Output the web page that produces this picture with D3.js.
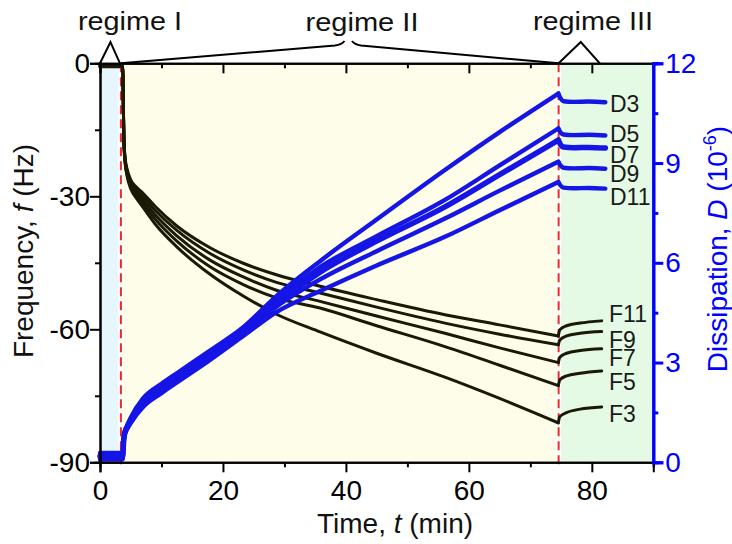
<!DOCTYPE html>
<html>
<head>
<meta charset="utf-8">
<script src="https://cdn.jsdelivr.net/npm/d3@7"></script>
<style>
  html, body { margin: 0; padding: 0; background: #fff; }
  svg { display: block; font-family: "Liberation Sans", Arial, sans-serif; }
</style>
</head>
<body>
<svg id="chart" width="732" height="544"></svg>
<script>
// Regime boundaries (min)
const regimeBounds = [0, 3.4, 74.6, 90];
const regimeNames = ["regime I", "regime II", "regime III"];

// Frequency shifts f (Hz) per overtone
const timeF = [0, 3.4, 3.72, 3.8, 3.9, 4.1, 4.4, 5.0, 6.0, 7.0, 9.0, 12.5, 17.9, 23.3, 28.7, 35.8, 45, 56.1, 65, 74.55, 74.8, 75.9, 78.1, 81.6];
const freqF11 = [-0.4, -0.4, -0.5, -10, -17.5, -21.5, -23.8, -26.3, -28.0, -29.3, -32.3, -36.7, -41.6, -45.1, -47.7, -50.3, -53.3, -56.7, -59.0, -61.5, -60.1, -59.2, -58.6, -58.1];
const freqF9  = [-0.5, -0.5, -0.6, -10, -17.8, -21.8, -24.2, -26.8, -28.7, -30.1, -33.2, -37.7, -42.9, -46.6, -49.4, -51.8, -55.0, -58.6, -61.1, -63.5, -62.4, -61.5, -60.9, -60.5];
const freqF7  = [-0.6, -0.6, -0.7, -10, -18.0, -22.1, -24.6, -27.3, -29.3, -30.9, -34.2, -38.9, -44.4, -48.2, -51.2, -53.7, -57.0, -60.9, -64.2, -67.5, -66.3, -65.4, -64.8, -64.4];
const freqF5  = [-0.7, -0.7, -0.8, -10, -18.2, -22.4, -25.0, -27.8, -29.9, -31.7, -35.2, -40.1, -45.9, -49.9, -52.9, -55.2, -59.2, -63.9, -68.1, -72.7, -71.4, -70.5, -69.9, -69.4];
const freqF3  = [-0.8, -0.8, -0.9, -10, -18.5, -22.7, -25.4, -28.3, -30.6, -32.5, -36.3, -41.4, -47.6, -52.5, -56.6, -60.6, -65.4, -70.8, -75.6, -81.1, -79.7, -78.8, -78.0, -77.5];

// Dissipation D (1e-6) per overtone
const timeD = [0, 3.5, 3.72, 3.8, 3.9, 4.1, 4.4, 5.0, 7.0, 10, 12.5, 17.9, 23.3, 28.7, 35.8, 45, 56.1, 65, 74.55, 74.9, 75.4, 77, 79.5, 82.2];
const dissD3  = [0.28, 0.28, 0.30, 0.55, 0.80, 0.98, 1.10, 1.34, 1.92, 2.36, 2.68, 3.36, 4.06, 5.00, 6.05, 7.30, 8.79, 9.93, 11.09, 10.95, 10.86, 10.84, 10.85, 10.83];
const dissD5  = [0.22, 0.22, 0.24, 0.52, 0.77, 0.95, 1.07, 1.30, 1.86, 2.28, 2.60, 3.28, 3.98, 4.86, 5.87, 6.80, 7.89, 8.93, 10.04, 9.92, 9.86, 9.84, 9.85, 9.83];
const dissD7  = [0.18, 0.18, 0.20, 0.50, 0.75, 0.93, 1.05, 1.27, 1.81, 2.22, 2.55, 3.22, 3.93, 4.78, 5.72, 6.65, 7.68, 8.65, 9.69, 9.56, 9.48, 9.46, 9.47, 9.45];
const dissD9  = [0.12, 0.12, 0.14, 0.48, 0.72, 0.90, 1.02, 1.23, 1.75, 2.16, 2.48, 3.16, 3.87, 4.68, 5.50, 6.35, 7.33, 8.17, 9.04, 8.93, 8.86, 8.84, 8.85, 8.83];
const dissD11 = [0.08, 0.08, 0.10, 0.45, 0.70, 0.87, 0.99, 1.18, 1.66, 2.08, 2.40, 3.08, 3.80, 4.52, 5.15, 5.92, 6.78, 7.58, 8.43, 8.33, 8.26, 8.24, 8.25, 8.23];

const freqNames = ["F11", "F9", "F7", "F5", "F3"];
const dissNames = ["D3", "D5", "D7", "D9", "D11"];

// Tick values
const xMajor = [0, 20, 40, 60, 80], xMinor = [10, 30, 50, 70, 90];
const fMajor = [0, -30, -60, -90], fMinor = [-15, -45, -75];
const dMajor = [0, 3, 6, 9, 12], dMinor = [1.5, 4.5, 7.5, 10.5];

const svg = d3.select("#chart");
const L = 100, R = 653.3, T = 63.3, B = 462.3;
const BLUE = "#0000ff", CURVE_BLUE = "#1515e6", CURVE_BLACK = "#1b1906";

const x = d3.scaleLinear().domain([0, 90]).range([L, R]);
const yF = d3.scaleLinear().domain([-90, 0]).range([B, T]);
const yD = d3.scaleLinear().domain([0, 12]).range([B, T]);

// Regime backgrounds
const bgColors = ["#e6f6fc", "#fefde9", "#e4fae4"];
svg.append("g").selectAll("rect")
  .data(d3.range(3)).join("rect")
  .attr("x", i => x(regimeBounds[i]))
  .attr("y", T)
  .attr("width", i => x(regimeBounds[i + 1]) - x(regimeBounds[i]))
  .attr("height", B - T)
  .attr("fill", i => bgColors[i]);

// Regime boundary markers
const bounds = regimeBounds.slice(1, 3);
svg.append("g").selectAll("line")
  .data(bounds).join("line")
  .attr("x1", d => x(d)).attr("x2", d => x(d))
  .attr("y1", T).attr("y2", B)
  .attr("stroke", "#fff").attr("stroke-width", 5);
svg.append("g").selectAll("line")
  .data(bounds).join("line")
  .attr("x1", d => x(d)).attr("x2", d => x(d))
  .attr("y1", T).attr("y2", B + 5)
  .attr("stroke", "#f02a2a").attr("stroke-width", 2)
  .attr("stroke-dasharray", "9,5");

// Curves: each run is drawn as two smooth pieces that meet at the rinse step
const stepTime = 74.55;
const lineF = d3.line().x(d => x(d[0])).y(d => yF(d[1])).curve(d3.curveMonotoneX);
const lineD = d3.line().x(d => x(d[0])).y(d => yD(d[1])).curve(d3.curveMonotoneX);

function pieces(times, vals) {
  const pts = times.map((t, i) => [t, vals[i]]);
  return [pts.filter(p => p[0] <= stepTime), pts.filter(p => p[0] >= stepTime)];
}

const freqSeries = [freqF11, freqF9, freqF7, freqF5, freqF3];
const dissSeries = [dissD3, dissD5, dissD7, dissD9, dissD11];

const curves = svg.append("g").attr("fill", "none").attr("stroke-linejoin", "round").attr("stroke-linecap", "round");
freqSeries.forEach(vals => {
  pieces(timeF, vals).forEach(seg => curves.append("path")
    .attr("d", lineF(seg))
    .attr("stroke", CURVE_BLACK).attr("stroke-width", 3));
});
dissSeries.forEach((vals, k) => {
  pieces(timeD, vals).forEach(seg => curves.append("path")
    .attr("d", lineD(seg))
    .attr("stroke", CURVE_BLUE).attr("stroke-width", k === 2 ? 5.5 : 4.4));
});

// Axes
const axes = svg.append("g");
const plainNum = d => String(d);
function styleAxis(g, color, width) {
  g.select(".domain").attr("stroke", color).attr("stroke-width", width);
  g.selectAll(".tick line").attr("stroke", color).attr("stroke-width", width);
  g.selectAll(".tick text").attr("fill", color).attr("font-size", 28)
    .attr("font-family", "Liberation Sans, Arial, sans-serif");
}

// bottom
axes.append("g").attr("transform", `translate(0,${B})`)
  .call(d3.axisBottom(x).tickValues(xMinor).tickSize(5).tickFormat(""))
  .call(g => styleAxis(g, "#000", 2));
axes.append("g").attr("transform", `translate(0,${B})`)
  .call(d3.axisBottom(x).tickValues(xMajor).tickSize(10).tickPadding(8).tickFormat(plainNum))
  .call(g => styleAxis(g, "#000", 2));
// top (inward ticks, no labels)
axes.append("g").attr("transform", `translate(0,${T})`)
  .call(d3.axisBottom(x).tickValues(xMinor).tickSize(5).tickFormat(""))
  .call(g => styleAxis(g, "#000", 2));
axes.append("g").attr("transform", `translate(0,${T})`)
  .call(d3.axisBottom(x).tickValues(xMajor).tickSize(10).tickFormat(""))
  .call(g => styleAxis(g, "#000", 2));
// left
axes.append("g").attr("transform", `translate(${L},0)`)
  .call(d3.axisLeft(yF).tickValues(fMinor).tickSize(5).tickFormat(""))
  .call(g => styleAxis(g, "#000", 2));
axes.append("g").attr("transform", `translate(${L},0)`)
  .call(d3.axisLeft(yF).tickValues(fMajor).tickSize(10).tickPadding(0).tickFormat(plainNum))
  .call(g => styleAxis(g, "#000", 2));
// right
axes.append("g").attr("transform", `translate(${R},0)`)
  .call(d3.axisRight(yD).tickValues(dMinor).tickSize(5).tickFormat(""))
  .call(g => styleAxis(g, BLUE, 3));
axes.append("g").attr("transform", `translate(${R},0)`)
  .call(d3.axisRight(yD).tickValues(dMajor).tickSize(10).tickPadding(2).tickFormat(plainNum))
  .call(g => styleAxis(g, BLUE, 3));

// Axis titles
const xt = svg.append("text").attr("x", 395).attr("y", 533)
  .attr("text-anchor", "middle").attr("font-size", 28).attr("fill", "#111");
xt.append("tspan").text("Time, ");
xt.append("tspan").attr("font-style", "italic").text("t");
xt.append("tspan").text(" (min)");

const yt = svg.append("text").attr("transform", "translate(33,251) rotate(-90)")
  .attr("text-anchor", "middle").attr("font-size", 28).attr("fill", "#111");
yt.append("tspan").text("Frequency, ");
yt.append("tspan").attr("font-style", "italic").text("f");
yt.append("tspan").text(" (Hz)");

const dt = svg.append("text").attr("transform", "translate(727,249) rotate(-90)")
  .attr("text-anchor", "middle").attr("font-size", 28).attr("fill", BLUE);
dt.append("tspan").text("Dissipation, ");
dt.append("tspan").attr("font-style", "italic").text("D");
dt.append("tspan").text(" (10");
dt.append("tspan").attr("font-size", 18).attr("dy", -11).text("-6");
dt.append("tspan").attr("dy", 11).text(")");

// Series labels
const dLabelY = [103.3, 134, 154.3, 173.3, 196.7];
const fLabelY = [313.3, 339.3, 357.3, 381.7, 413.3];
const labels = svg.append("g").attr("font-size", 23).attr("fill", "#1a1a1a");
dissNames.forEach((n, i) => labels.append("text").attr("x", 610).attr("y", dLabelY[i] + 8.2).text(n));
freqNames.forEach((n, i) => labels.append("text").attr("x", 609).attr("y", fLabelY[i] + 8.2).text(n));

// Regime annotations
const ann = svg.append("g").attr("fill", "none").attr("stroke", "#000").attr("stroke-width", 2);
ann.append("path").attr("d", `M${x(0)},${T} L${x(1.7)},42 L${x(3.25)},${T}`);
ann.append("path").attr("d", `M${x(3.4)},${T} L335,45.5 Q342,44.5 344.5,41`);
ann.append("path").attr("d", `M352,41 Q354.5,44.5 361,45.5 L${x(74.6)},${T}`);
ann.append("path").attr("d", `M${x(74.6)},${T} L${x(78.2)},42 L${x(81.3)},${T}`);

const regimeX = [130, 362, 593], regimeW = [104, 113, 120], regimeBase = [29.5, 30.5, 29.5];
svg.append("g").attr("font-size", 26).attr("fill", "#111").selectAll("text")
  .data(regimeNames).join("text")
  .attr("x", (d, i) => regimeX[i] - regimeW[i] / 2)
  .attr("y", (d, i) => regimeBase[i])
  .attr("textLength", (d, i) => regimeW[i])
  .attr("lengthAdjust", "spacingAndGlyphs")
  .text(d => d);
</script>
</body>
</html>
